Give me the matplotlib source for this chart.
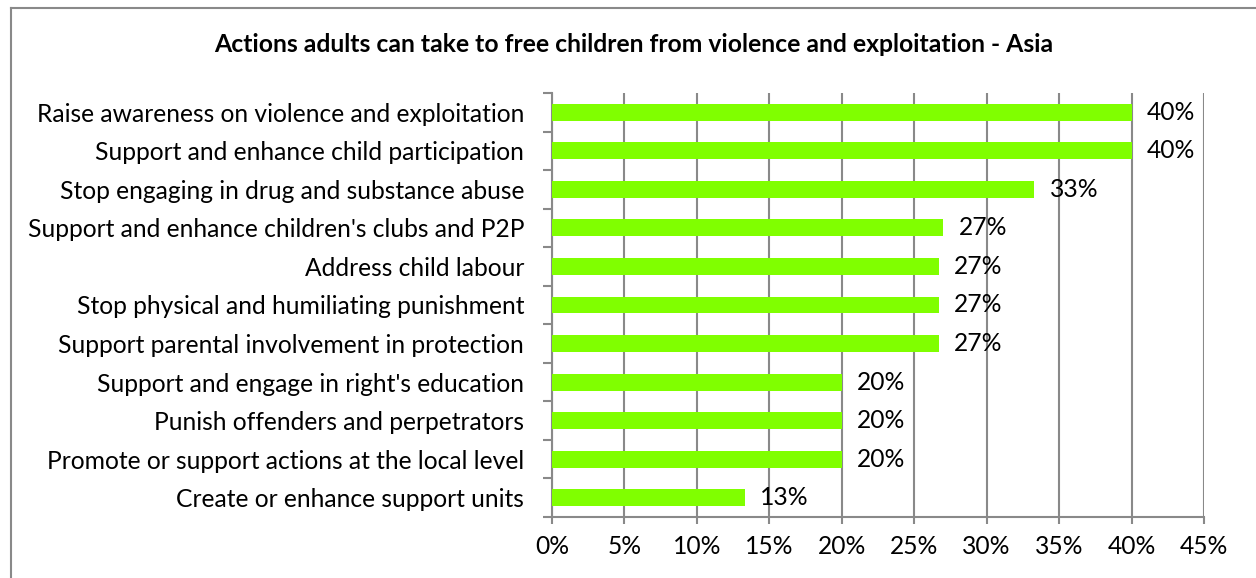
import matplotlib
matplotlib.use("Agg")
import matplotlib.pyplot as plt
from matplotlib.lines import Line2D
from matplotlib.ticker import PercentFormatter

title = "Actions adults can take to free children from violence and exploitation - Asia"
actions = [
    "Raise awareness on violence and exploitation",
    "Support and enhance child participation",
    "Stop engaging in drug and substance abuse",
    "Support and enhance children's clubs and P2P",
    "Address child labour",
    "Stop physical and humiliating punishment",
    "Support parental involvement in protection",
    "Support and engage in right's education",
    "Punish offenders and perpetrators",
    "Promote or support actions at the local level",
    "Create or enhance support units",
]
shares = [0.40, 0.40, 0.333, 0.27, 0.267, 0.267, 0.267, 0.20, 0.20, 0.20, 0.133]
x_ticks = [0.0, 0.05, 0.10, 0.15, 0.20, 0.25, 0.30, 0.35, 0.40, 0.45]

W, H = 1256, 578
plt.rcParams["font.family"] = ["Lato", "DejaVu Sans"]
fig = plt.figure(figsize=(W / 100, H / 100), dpi=100)
fig.patch.set_facecolor("white")
grey = "#898989"

# outer chart frame (left and top edges visible)
fig.add_artist(Line2D([11 / W, 11 / W], [0, 1 - 7.5 / H], transform=fig.transFigure,
                      color=grey, linewidth=1.5))
fig.add_artist(Line2D([11 / W, 1], [1 - 7.5 / H, 1 - 7.5 / H], transform=fig.transFigure,
                      color=grey, linewidth=1.5))

ax = fig.add_axes([552 / W, 1 - 517 / H, (1204 - 552) / W, (517 - 93) / H])
n = len(actions)
pos = list(range(n))
ax.barh(pos, shares, height=0.44, color="#80ff00", zorder=3)
ax.set_ylim(n - 0.5, -0.5)
ax.set_xlim(0, 0.45)
ax.set_xticks(x_ticks)
ax.xaxis.set_major_formatter(PercentFormatter(1.0, decimals=0))
ax.set_yticks(pos)
ax.set_yticklabels(actions)
ax.set_yticks([p - 0.5 for p in pos] + [n - 0.5], minor=True)
ax.tick_params(axis="y", which="major", length=0, pad=20, labelsize=17.7)
ax.tick_params(axis="y", which="minor", length=6.5, width=1.5, color=grey)
ax.tick_params(axis="x", length=5, width=1.5, color=grey, pad=8, labelsize=17.7)
ax.grid(axis="x", color=grey, linewidth=1.5, zorder=0)
for side in ("top", "right"):
    ax.spines[side].set_visible(False)
for side in ("left", "bottom"):
    ax.spines[side].set_color(grey)
    ax.spines[side].set_linewidth(1.5)

for p, v in zip(pos, shares):
    ax.text(v + 0.0105, p, f"{v * 100:.0f}%", va="center", ha="left",
            fontsize=17.7, zorder=4)

fig.text(634 / W, 1 - 52 / H, title, ha="center", va="baseline",
         fontsize=17.8, fontweight="bold")

fig.savefig("out.png", dpi=100)
